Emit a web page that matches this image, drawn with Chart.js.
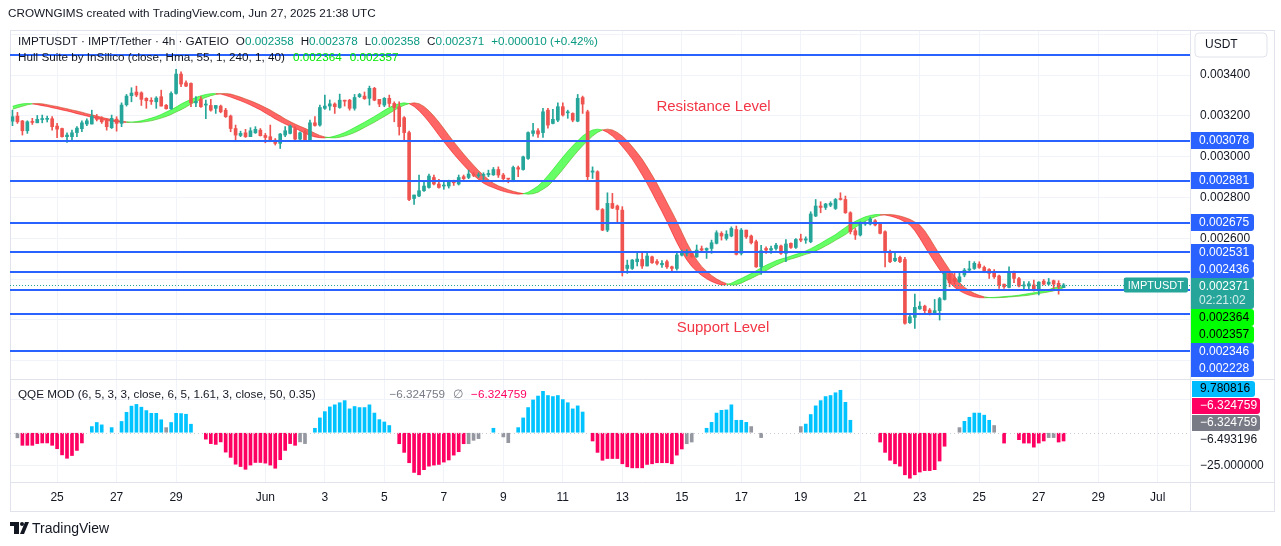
<!DOCTYPE html>
<html>
<head>
<meta charset="utf-8">
<script src="https://cdn.jsdelivr.net/npm/chart.js@4.4.1/dist/chart.umd.min.js"></script>
<style>
  html, body { margin: 0; padding: 0; background: #fff; }
  canvas { display: block; }
</style>
</head>
<body>
<canvas id="chart" width="1281" height="546"></canvas>
<script>
// IMPT/USDT 4h candles, prices in millionths of USDT, first candle May 23 12:00 UTC
var opens = [3174,3199,3175,3127,3172,3166,3182,3183,3186,3150, 3138,3098,3098,3118,3137,3160,3160,3196,3188,3180,
  3142,3184,3163,3255,3299,3317,3313,3286,3274,3269, 3294,3252,3235,3310,3405,3362,3359,3264,3281,3253,
  3251,3237,3248,3228,3199,3138,3104,3117,3098,3117, 3130,3104,3098,3081,3065,3106,3114,3138,3086,3122,
  3081,3166,3155,3237,3248,3258,3241,3277,3277,3237, 3294,3297,3286,3335,3281,3253,3286,3261,3245,3191,
  3118,2795,2807,2833,2849,2898,2866,2856,2856,2877, 2866,2902,2898,2915,2906,2908,2911,2911,2937,2910,
  2893,2882,2946,2937,2991,3114,3127,3118,3228,3163, 3179,3245,3215,3212,3174,3290,3220,2924,2926,2741,
  2640,2771,2758,2738,2452,2452,2485,2496,2464,2509, 2486,2470,2485,2460,2452,2517,2526,2526,2509,2549,
  2542,2550,2575,2624,2599,2611,2643,2526,2640,2611, 2583,2460,2550,2542,2550,2562,2526,2575,2555,2597,
  2591,2583,2709,2758,2751,2762,2746,2795,2790,2725, 2637,2616,2670,2670,2686,2673,2632,2534,2490,2506,
  2496,2186,2212,2254,2267,2248,2235,2245,2300,2423, 2403,2387,2420,2444,2452,2473,2457,2447,2428,2415,
  2375,2359,2434,2402,2366,2366,2371,2346,2390,2375, 2392,2379,2358];
var highs = [3228,3217,3178,3176,3188,3202,3204,3199,3196,3163, 3140,3117,3130,3147,3176,3186,3228,3207,3196,3188,
  3204,3196,3264,3305,3338,3346,3318,3289,3289,3294, 3326,3256,3318,3428,3416,3372,3362,3294,3294,3278,
  3281,3251,3253,3237,3204,3155,3125,3134,3142,3147, 3138,3114,3155,3089,3114,3147,3155,3147,3122,3130,
  3179,3196,3253,3302,3278,3264,3307,3277,3281,3305, 3310,3317,3346,3340,3281,3290,3302,3269,3269,3196,
  3125,2812,2910,2882,2915,2910,2889,2877,2885,2885, 2910,2910,2934,2924,2921,2921,2934,2947,2950,2918,
  2893,2954,2954,3003,3122,3163,3138,3237,3237,3232, 3264,3264,3228,3215,3305,3297,3228,2950,2931,2746,
  2823,2820,2763,2755,2493,2496,2526,2526,2526,2513, 2496,2490,2493,2464,2526,2542,2545,2529,2567,2562,
  2553,2591,2637,2632,2637,2656,2660,2648,2640,2616, 2591,2565,2558,2562,2575,2567,2594,2578,2599,2620,
  2607,2730,2790,2779,2771,2779,2795,2823,2807,2730, 2648,2681,2681,2702,2692,2676,2637,2542,2534,2513,
  2506,2232,2326,2289,2272,2256,2300,2310,2436,2428, 2436,2436,2452,2488,2485,2485,2464,2451,2447,2420,
  2375,2460,2439,2408,2387,2387,2395,2387,2398,2403, 2395,2392,2378];
var lows = [3152,3163,3106,3114,3158,3166,3166,3170,3130,3093, 3095,3070,3081,3098,3122,3152,3160,3175,3163,3130,
  3138,3125,3147,3248,3269,3294,3251,3237,3256,3237, 3248,3233,3232,3307,3343,3343,3245,3245,3241,3186,
  3223,3212,3215,3192,3122,3078,3098,3094,3098,3114, 3101,3068,3073,3057,3040,3098,3111,3073,3078,3078,
  3078,3150,3150,3232,3228,3212,3237,3248,3228,3228, 3290,3281,3253,3274,3245,3245,3245,3171,3106,3073,
  2784,2766,2804,2830,2846,2861,2846,2840,2846,2859, 2861,2888,2892,2902,2898,2888,2902,2908,2898,2877,
  2872,2877,2902,2934,2986,3101,3094,3094,3140,3160, 3171,3199,3188,3171,3171,3212,2885,2893,2738,2637,
  2632,2745,2673,2415,2428,2447,2464,2452,2464,2477, 2469,2457,2452,2434,2444,2513,2513,2506,2506,2534,
  2501,2526,2572,2591,2591,2607,2518,2518,2599,2572, 2457,2423,2526,2526,2542,2521,2485,2550,2550,2583,
  2575,2578,2706,2725,2741,2755,2741,2787,2722,2621, 2594,2611,2663,2665,2660,2621,2460,2480,2485,2480,
  2179,2183,2158,2251,2229,2224,2228,2199,2297,2362, 2375,2382,2411,2436,2447,2452,2431,2403,2403,2354,
  2354,2356,2382,2362,2349,2349,2341,2322,2371,2371, 2354,2326,2358];
var closes = [3196,3171,3127,3171,3168,3183,3184,3185,3147,3135, 3098,3106,3117,3140,3166,3176,3199,3183,3171,3147,
  3188,3163,3253,3297,3312,3302,3281,3274,3271,3287, 3248,3235,3310,3405,3356,3346,3264,3271,3245,3255,
  3228,3251,3220,3196,3138,3106,3114,3098,3127,3134, 3103,3094,3078,3065,3111,3127,3150,3086,3117,3081,
  3166,3153,3241,3248,3259,3245,3277,3272,3237,3290, 3305,3284,3335,3277,3258,3286,3261,3241,3147,3118,
  2790,2812,2833,2856,2905,2866,2849,2861,2877,2872, 2898,2892,2915,2908,2911,2913,2918,2937,2910,2892,
  2890,2947,2939,2999,3118,3127,3111,3220,3155,3183, 3245,3204,3220,3179,3286,3258,2902,2930,2741,2640,
  2771,2748,2741,2436,2468,2493,2498,2464,2513,2480, 2477,2477,2460,2452,2518,2530,2534,2509,2542,2542,
  2550,2578,2627,2611,2620,2648,2521,2640,2607,2578, 2460,2539,2542,2550,2566,2526,2572,2555,2594,2591,
  2597,2719,2758,2751,2768,2771,2790,2790,2725,2632, 2616,2676,2678,2693,2665,2624,2529,2485,2502,2485,
  2183,2215,2261,2267,2245,2235,2245,2304,2428,2382, 2387,2411,2444,2450,2477,2457,2436,2428,2411,2371,
  2362,2431,2403,2366,2371,2377,2346,2385,2375,2385, 2375,2361,2371];

// Hull MA (millionths), starting two candles before the first one
var hull = [3232,3240,
  3247,3254,3259,3261,3259,3255,3250,3246,3240,3235, 3229,3224,3218,3211,3205,3199,3193,3187,3182,3178,
  3174,3171,3169,3168,3169,3172,3176,3182,3189,3197, 3207,3219,3230,3243,3258,3270,3281,3290,3299,3305,
  3309,3310,3307,3300,3292,3283,3274,3264,3253,3241, 3229,3214,3200,3185,3172,3160,3149,3139,3127,3115,
  3104,3097,3093,3092,3095,3101,3109,3118,3130,3143, 3156,3169,3183,3197,3212,3227,3241,3252,3260,3264,
  3260,3246,3225,3199,3170,3138,3105,3073,3043,3013, 2985,2958,2932,2909,2888,2870,2857,2848,2838,2830,
  2824,2819,2816,2818,2826,2840,2856,2880,2908,2937, 2968,2998,3027,3053,3078,3101,3119,3131,3135,3131,
  3119,3101,3078,3050,3020,2988,2950,2910,2868,2823, 2776,2730,2682,2630,2579,2534,2494,2462,2438,2418,
  2401,2388,2378,2371,2372,2380,2392,2403,2415,2427, 2441,2455,2468,2479,2490,2498,2505,2513,2521,2528,
  2538,2549,2562,2575,2590,2604,2618,2636,2653,2670, 2683,2695,2705,2712,2716,2717,2714,2709,2702,2693,
  2680,2665,2637,2600,2560,2520,2482,2446,2414,2383, 2360,2343,2330,2320,2313,2309,2308,2309,2310,2312,
  2314,2316,2318,2321,2325,2329,2333,2337,2342,2348, 2357,2360,2364];

// QQE MOD histogram, one value per candle (null = no bar)
var qqe = [null,-3.9,-9.6,-9.6,-9.6,-8.3,-7.8,-7.8,-9.6,-12.2, -16.9,-19.5,-17.4,-13.5,-7.8,null,4.7,7.8,6.0,null,
  3.9,null,8.6,15.6,20.3,21.6,19.5,16.9,14.8,14.8, 9.9,3.9,7.8,14.8,14.6,14.1,6.5,null,null,-4.9,
  -8.3,-8.9,-7.0,-14.8,-18.8,-24,-25.8,-27.9,-24.7,-22.7, -22.7,-23.2,-24.7,-27.1,-20.6,-13.5,-8.3,-9.6,-7.0,-8.3,
  null,3.4,11.3,16.1,19.7,21.3,22.9,24.5,18.2,20, 19.2,19.2,21.3,15,10,8.2,5.5,null,-8.4,-15,
  -22.9,-30.3,-32.1,-28.2,-25.5,-24.7,-24.2,-22.4,-20.8,-17.1, -14.5,-8.4,-8.4,-5.8,-4.5,null,null,3.4,null,-3.2,
  -7.6,null,3.9,11.3,19.2,25,28,31.6,28.4,27.6, 28.4,25.3,22.9,18.2,20.5,15.8,null,-6.3,-15,-21,
  -19.7,-19.7,-19.7,-23.7,-26,-26.8,-26.8,-26.8,-24.2,-23.7, -22.9,-22.9,-22.9,-23.7,-17.1,-12.4,-8.4,-7.1,null,null,
  3.4,7.9,15,17.1,17.4,21.3,9.5,9.5,7.9,4.7, null,-3.7,null,null,null,null,null,null,null,4.7,
  6.6,13.9,20.5,24.5,27.6,28.4,30.5,32.4,23.2,9.5, null,null,null,null,null,-7.1,-15,-21,-23.7,-25.5,
  -32.1,-34.7,-32.1,-30,-28.9,-28.9,-28.2,-21.6,-10.3,null, null,3.9,8.7,11.8,15,15,13.4,9.5,5.5,null,
  -7.9,null,null,-5.3,-7.9,-7.9,-11,-7.9,-6.3,-3.7, -3.7,-7.1,-6.32];
var qqeNeutral = [1,31,58,59,92,93,94,99,100,136,137,149,151,159,191,198,209,210];

var levels = [3498, 3078, 2881, 2675, 2531, 2436, 2346, 2228, 2047];
var labelledLevels = [3078, 2881, 2675, 2531, 2436, 2346, 2228];
var priceTicks = [3400, 3200, 3000, 2800, 2600];
var lastPrice = 2371;
var hullNow = [2364, 2357];
var qqeNow = [9.780816, -6.324759, -6.324759, -6.493196];
var qqeTicks = [-25];
var dayTicks = ['05-25T00','05-27T00','05-29T00','06-01T00','06-03T00','06-05T00','06-07T00','06-09T00','06-11T00',
  '06-13T00','06-15T00','06-17T00','06-19T00','06-21T00','06-23T00','06-25T00','06-27T00','06-29T00','07-01T00'];
var dayText = ['25','27','29','Jun','3','5','7','9','11','13','15','17','19','21','23','25','27','29','Jul'];
var notes = [
  { text: 'Resistance Level', slot: 141.4, price: 3243 },
  { text: 'Support Level', slot: 143.3, price: 2160 }
];

// 4h slots on the time axis, including the empty space right of the last candle
var slots = [];
var start = Date.UTC(2025, 4, 23, 12);
for (var i = 0; i < 238; i++) {
  slots.push(new Date(start + i * 4 * 3600 * 1000).toISOString().slice(5, 13));
}

var FONT = '"Liberation Sans", Arial, sans-serif';
var TEXT = '#131722';
var UP = '#26a69a', DOWN = '#ef5350';

function fmt(v) { return (v / 1e6).toFixed(6); }
function fmtQ(v) { return v.toFixed(6).replace('-', '\u2212'); }

var candleColors = closes.map(function (c, i) { return c >= opens[i] ? UP : DOWN; });
var hullMain = hull.slice(2);
var hullLag = hull.slice(0, hull.length - 2); // Hull Suite band: HULL vs HULL[2]
function hullRising(i) { return hullMain[i] >= hullLag[i]; }

function tag(ctx, x, top, w, h, bg) {
  ctx.fillStyle = bg;
  ctx.beginPath();
  ctx.roundRect(x, top, w, h, [0, 3, 3, 0]);
  ctx.fill();
}

var decor = {
  id: 'decor',
  beforeDraw: function (chart) {
    var ctx = chart.ctx;
    ctx.save();
    ctx.fillStyle = '#fff';
    ctx.fillRect(0, 0, chart.width, chart.height);
    ctx.restore();
  },
  afterDraw: function (chart) {
    var ctx = chart.ctx, ca = chart.chartArea;
    var y = chart.scales.y, q = chart.scales.q, x = chart.scales.x;
    ctx.save();

    // frame and pane separators
    ctx.strokeStyle = '#e0e3eb';
    ctx.lineWidth = 1;
    ctx.strokeRect(10.5, 30.5, 1264, 481);
    ctx.beginPath();
    ctx.moveTo(10, Math.round(y.bottom) + 0.5); ctx.lineTo(1275, Math.round(y.bottom) + 0.5);
    ctx.moveTo(10, Math.round(ca.bottom) + 0.5); ctx.lineTo(1275, Math.round(ca.bottom) + 0.5);
    ctx.moveTo(Math.round(ca.right) + 0.5, 30); ctx.lineTo(Math.round(ca.right) + 0.5, 512);
    ctx.stroke();

    // horizontal levels
    ctx.fillStyle = '#2962ff';
    levels.forEach(function (v) {
      var py = Math.round(y.getPixelForValue(v));
      ctx.fillRect(ca.left, py - 1, ca.right - ca.left, 2);
    });

    // last price dotted line
    var pp = Math.round(y.getPixelForValue(lastPrice)) + 0.5;
    ctx.strokeStyle = UP;
    ctx.setLineDash([1, 2]);
    ctx.beginPath(); ctx.moveTo(ca.left, pp); ctx.lineTo(ca.right, pp); ctx.stroke();
    // QQE zero line
    var zq = Math.round(q.getPixelForValue(0)) + 0.5;
    ctx.strokeStyle = '#c9ccd4';
    ctx.setLineDash([1, 3]);
    ctx.beginPath(); ctx.moveTo(ca.left, zq); ctx.lineTo(ca.right, zq); ctx.stroke();
    ctx.setLineDash([]);

    // annotations
    ctx.font = '15px ' + FONT;
    ctx.fillStyle = '#f23645';
    ctx.textAlign = 'center';
    ctx.textBaseline = 'middle';
    notes.forEach(function (n) {
      ctx.fillText(n.text, x.getPixelForValue(n.slot), y.getPixelForValue(n.price));
    });

    // header and legends
    ctx.textAlign = 'left';
    ctx.font = '11.7px ' + FONT;
    ctx.fillStyle = TEXT;
    ctx.fillText('CROWNGIMS created with TradingView.com, Jun 27, 2025 21:38 UTC', 8, 14);

    function runs(x0, yy, parts) {
      var cx = x0;
      parts.forEach(function (p) {
        ctx.fillStyle = p[1];
        ctx.fillText(p[0], cx, yy);
        cx += ctx.measureText(p[0]).width + (p[2] || 0);
      });
    }
    var n = closes.length - 1;
    var chg = closes[n] - closes[n - 1];
    var pct = (chg / closes[n - 1] * 100).toFixed(2);
    var teal = '#089981';
    runs(18, 42, [
      ['IMPTUSDT \u00b7 IMPT/Tether \u00b7 4h \u00b7 GATEIO', TEXT, 7],
      ['O', TEXT], [fmt(opens[n]), teal, 7],
      ['H', TEXT], [fmt(highs[n]), teal, 7],
      ['L', TEXT], [fmt(lows[n]), teal, 7],
      ['C', TEXT], [fmt(closes[n]), teal, 7],
      ['+' + fmt(chg) + ' (+' + pct + '%)', teal]
    ]);
    runs(18, 58, [
      ['Hull Suite by InSilico (close, Hma, 55, 1, 240, 1, 40)', TEXT, 8],
      [fmt(hullNow[0]), '#00e600', 8],
      [fmt(hullNow[1]), '#00e600']
    ]);
    runs(18, Math.round(q.top) + 16, [
      ['QQE MOD (6, 5, 3, 3, close, 6, 5, 1.61, 3, close, 50, 0.35)', TEXT, 74],
      [fmtQ(qqeNow[1]), '#787b86', 8],
      ['\u2205', '#787b86', 8],
      [fmtQ(qqeNow[2]), '#ff0062']
    ]);

    // right price scale
    ctx.font = '12px ' + FONT;
    var ax = Math.round(ca.right) + 1;
    ctx.fillStyle = TEXT;
    priceTicks.forEach(function (v) {
      ctx.fillText(fmt(v), ax + 9, y.getPixelForValue(v));
    });

    var items = labelledLevels.map(function (v) {
      return { v: v, h: 17, bg: '#2962ff', fg: ['#fff'], text: [fmt(v)] };
    });
    items.push({ v: lastPrice, h: 31, bg: UP, fg: ['#fff', 'rgba(255,255,255,0.8)'], text: [fmt(lastPrice), '02:21:02'] });
    hullNow.forEach(function (v) {
      items.push({ v: v, h: 17, bg: '#00ff00', fg: ['#000'], text: [fmt(v)] });
    });
    items.sort(function (a, b) { return b.v - a.v; });
    items.forEach(function (it, i) {
      it.top = y.getPixelForValue(it.v) - 8.5;
      if (i > 0) it.top = Math.max(it.top, items[i - 1].top + items[i - 1].h);
    });
    var limit = y.bottom - 2;
    for (var k = items.length - 1; k >= 0; k--) {
      var lim = k === items.length - 1 ? limit : items[k + 1].top;
      items[k].top = Math.min(items[k].top, lim - items[k].h);
    }
    items.forEach(function (it) {
      tag(ctx, ax, Math.round(it.top), 63, it.h, it.bg);
      it.text.forEach(function (t, j) {
        ctx.fillStyle = it.fg[j];
        ctx.fillText(t, ax + 8, Math.round(it.top) + 8.5 + j * 14);
      });
    });

    // symbol tag on the last price line
    ctx.font = '11px ' + FONT;
    var symW = ctx.measureText('IMPTUSDT').width + 8;
    ctx.fillStyle = UP;
    ctx.beginPath();
    ctx.roundRect(ca.right - symW - 2, pp - 8, symW, 15, 2);
    ctx.fill();
    ctx.fillStyle = '#fff';
    ctx.fillText('IMPTUSDT', ca.right - symW + 2, pp);
    ctx.font = '12px ' + FONT;

    // currency button
    ctx.strokeStyle = '#e0e3eb';
    ctx.beginPath();
    ctx.roundRect(ax + 4, 33, 72, 24, 4);
    ctx.stroke();
    ctx.fillStyle = TEXT;
    ctx.fillText('USDT', ax + 14, 45);

    // QQE scale labels
    var qStyles = [['#00bcff', '#000', 63], ['#ff0062', '#fff', 68], ['#787b86', '#fff', 68], [null, TEXT, 0]];
    qqeNow.forEach(function (v, i) {
      var cy = Math.round(q.top) + 10 + 17 * i;
      var s = qStyles[i];
      if (s[0]) tag(ctx, ax + 1, cy - 8, s[2], 16, s[0]);
      ctx.fillStyle = s[1];
      ctx.fillText(fmtQ(v), ax + 9, cy);
    });
    ctx.fillStyle = TEXT;
    qqeTicks.forEach(function (v) {
      ctx.fillText(fmtQ(v), ax + 9, q.getPixelForValue(v));
    });

    // footer logo
    ctx.fillStyle = '#131722';
    ctx.fillRect(10, 522, 9, 4);
    ctx.fillRect(14, 522, 5, 12);
    ctx.beginPath(); ctx.arc(22, 524, 2, 0, Math.PI * 2); ctx.fill();
    ctx.beginPath();
    ctx.moveTo(25, 522); ctx.lineTo(29, 522); ctx.lineTo(24, 534); ctx.lineTo(20, 534);
    ctx.closePath(); ctx.fill();
    ctx.font = '14px ' + FONT;
    ctx.fillText('TradingView', 32, 529);

    ctx.restore();
  }
};

function fixWidth(s) { s.width = 85; }

new Chart('chart', {
  type: 'bar',
  data: {
    labels: slots,
    datasets: [
      {
        data: opens.map(function (o, i) { return [o, closes[i]]; }),
        yAxisID: 'y', backgroundColor: candleColors, barThickness: 3,
        minBarLength: 1, grouped: false, order: 0
      },
      {
        data: lows.map(function (l, i) { return [l, highs[i]]; }),
        yAxisID: 'y', backgroundColor: candleColors, barThickness: 1,
        grouped: false, order: 1
      },
      {
        type: 'line', data: hullMain, yAxisID: 'y', order: 2,
        borderWidth: 1, pointRadius: 0, tension: 0,
        borderColor: 'rgba(0,255,0,0.5)',
        fill: { target: '+1', above: 'rgba(0,255,0,0.6)', below: 'rgba(255,0,0,0.6)' },
        segment: { borderColor: function (c) { return hullRising(c.p1DataIndex) ? 'rgba(0,220,0,0.5)' : 'rgba(235,0,0,0.5)'; } }
      },
      {
        type: 'line', data: hullLag, yAxisID: 'y', order: 3,
        borderWidth: 1, pointRadius: 0, tension: 0, fill: false,
        borderColor: 'rgba(0,255,0,0.5)',
        segment: { borderColor: function (c) { return hullRising(c.p1DataIndex) ? 'rgba(0,220,0,0.5)' : 'rgba(235,0,0,0.5)'; } }
      },
      {
        data: qqe, yAxisID: 'q', barThickness: 3, grouped: false, order: 4,
        backgroundColor: qqe.map(function (v, i) {
          if (qqeNeutral.indexOf(i) >= 0) return '#9598a1';
          return v > 0 ? '#00c3ff' : '#ff0062';
        })
      }
    ]
  },
  options: {
    responsive: false,
    animation: false,
    layout: { padding: { left: 10, top: 30, right: 6, bottom: 34 } },
    plugins: { legend: { display: false }, tooltip: { enabled: false } },
    scales: {
      x: {
        type: 'category', offset: true,
        grid: { color: '#f0f3fa', drawTicks: false, offset: false },
        border: { display: false },
        afterBuildTicks: function (axis) {
          axis.ticks = axis.ticks.filter(function (t) { return dayTicks.indexOf(slots[t.value]) >= 0; });
        },
        afterFit: function (s) { s.height = 30; },
        ticks: {
          autoSkip: false, maxRotation: 0, padding: 8, color: TEXT,
          font: { family: FONT, size: 12 },
          callback: function (v) { return dayText[dayTicks.indexOf(slots[v])]; }
        }
      },
      y: {
        type: 'linear', position: 'right', stack: 'panes', stackWeight: 349,
        min: 1910, max: 3621,
        ticks: { display: false, stepSize: 200, includeBounds: false },
        grid: { color: '#f0f3fa', drawTicks: false },
        border: { display: false },
        afterFit: fixWidth
      },
      q: {
        type: 'linear', position: 'right', stack: 'panes', stackWeight: 103,
        min: -37.6, max: 41,
        ticks: { display: false, stepSize: 25, includeBounds: false },
        grid: {
          color: function (c) { return c.tick && c.tick.value === 0 ? 'rgba(0,0,0,0)' : '#f0f3fa'; },
          drawTicks: false
        },
        border: { display: false },
        afterFit: fixWidth
      }
    }
  },
  plugins: [decor]
});
</script>
</body>
</html>
